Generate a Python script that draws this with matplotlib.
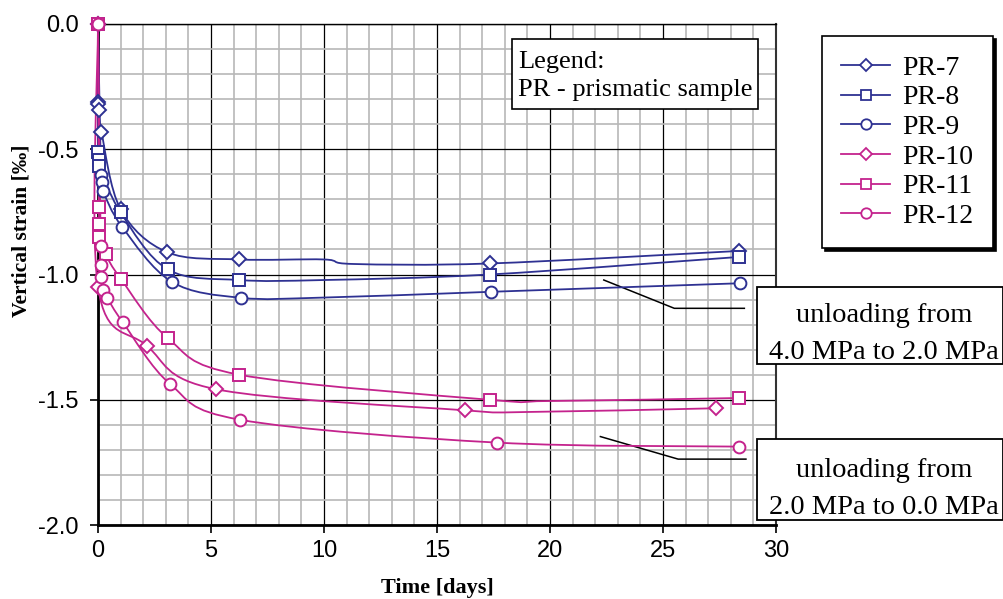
import matplotlib
matplotlib.use("Agg")
import matplotlib.pyplot as plt
import numpy as np
from matplotlib.patches import Rectangle, PathPatch
from matplotlib.path import Path
from matplotlib.lines import Line2D
from matplotlib.ticker import MultipleLocator, FormatStrFormatter

# data (time in days, vertical strain in per mille)
pr7_t = [0, 0.0, 0.02, 0.04, 0.15, 1.0, 3.06, 6.24, 10.0, 11.3, 17.33, 28.35]
pr7_e = [0, -0.31, -0.32, -0.345, -0.43, -0.74, -0.911, -0.94, -0.94, -0.958, -0.956, -0.906]
pr7_mark = [0, 1, 2, 3, 4, 5, 6, 7, 10, 11]

pr8_t = [0, 0.0, 0.04, 0.06, 1.0, 3.09, 6.24, 10.0, 17.33, 28.35]
pr8_e = [0, -0.51, -0.541, -0.566, -0.752, -0.98, -1.022, -1.022, -1.0, -0.93]
pr8_mark = [0, 1, 2, 3, 4, 5, 6, 8, 9]

pr9_t = [0, 0.13, 0.16, 0.22, 1.06, 3.26, 6.33, 10.0, 17.4, 28.4]
pr9_e = [0, -0.603, -0.63, -0.667, -0.809, -1.029, -1.093, -1.092, -1.069, -1.035]
pr9_mark = [0, 1, 2, 3, 4, 5, 6, 8, 9]

pr10_t = [0, 0.0, 2.16, 5.22, 16.22, 18.9, 27.33]
pr10_e = [0, -1.05, -1.284, -1.458, -1.542, -1.549, -1.534]
pr10_mark = [0, 1, 2, 3, 4, 6]

pr11_t = [0, 0.04, 0.05, 0.06, 0.34, 1.0, 3.1, 6.25, 17.33, 20.0, 28.35]
pr11_e = [0, -0.73, -0.80, -0.85, -0.92, -1.016, -1.255, -1.40, -1.50, -1.505, -1.493]
pr11_mark = [0, 1, 2, 3, 4, 5, 6, 7, 8, 10]

pr12_t = [0, 0.12, 0.14, 0.15, 0.24, 0.41, 1.1, 3.2, 6.3, 17.64, 28.35]
pr12_e = [0, -0.886, -0.962, -1.009, -1.06, -1.093, -1.191, -1.438, -1.58, -1.671, -1.687]
pr12_mark = list(range(len(pr12_t)))

labels = ["PR-7", "PR-8", "PR-9", "PR-10", "PR-11", "PR-12"]

# leader lines to the annotation boxes
lead1_t = [22.38, 25.5, 28.6]
lead1_e = [-1.022, -1.135, -1.135]
lead2_t = [22.23, 25.67, 28.67]
lead2_e = [-1.647, -1.737, -1.737]

blue = "#2e3192"
pink = "#c4238d"
serif = ["Liberation Serif", "DejaVu Serif"]
sans = ["Liberation Sans Narrow", "Liberation Sans", "DejaVu Sans"]


def smooth_path(t, e):
    # Excel-like smoothed line: Catmull-Rom segments drawn as cubic Bezier curves
    sx, sy = 22.6, 250.5  # pixel per unit, so the smoothing is done on screen scale
    p = np.column_stack([np.asarray(t) * sx, np.asarray(e) * sy])
    n = len(p)
    verts = [p[0]]
    codes = [Path.MOVETO]
    for i in range(n - 1):
        p0 = p[i - 1] if i > 0 else p[i]
        p1, p2 = p[i], p[i + 1]
        p3 = p[i + 2] if i + 2 < n else p[i + 1]
        verts += [p1 + (p2 - p0) / 6, p2 - (p3 - p1) / 6, p2]
        codes += [Path.CURVE4] * 3
    verts = np.array(verts) / [sx, sy]
    return Path(verts, codes)


fig = plt.figure(figsize=(10.04, 5.99), dpi=100)
ax = fig.add_axes([98 / 1004, 1 - 525 / 599, (776 - 98) / 1004, (525 - 24) / 599])

series = [
    (pr7_t, pr7_e, pr7_mark, "D", 7, blue),
    (pr8_t, pr8_e, pr8_mark, "s", 8, blue),
    (pr9_t, pr9_e, pr9_mark, "o", 8.5, blue),
    (pr10_t, pr10_e, pr10_mark, "D", 7, pink),
    (pr11_t, pr11_e, pr11_mark, "s", 8, pink),
    (pr12_t, pr12_e, pr12_mark, "o", 8.5, pink),
]
handles = []
for (t, e, mk, m, ms, c), lab in zip(series, labels):
    ax.add_patch(PathPatch(smooth_path(t, e), fill=False, ec=c, lw=1.3,
                           clip_on=False, zorder=5))
    ax.plot(t, e, ls="none", marker=m, ms=ms, mfc="white", mec=c, mew=1.4,
            markevery=mk, clip_on=False, zorder=6)
    handles.append(Line2D([], [], color=c, lw=1.3, marker=m, ms=ms - 1,
                          mfc="white", mec=c, mew=1.3, label=lab))

ax.plot(lead1_t, lead1_e, color="black", lw=1.1, zorder=4)
ax.plot(lead2_t, lead2_e, color="black", lw=1.1, zorder=4)

ax.set_xlim(0, 30)
ax.set_ylim(-2.0, 0.0)
ax.xaxis.set_major_locator(MultipleLocator(5))
ax.xaxis.set_minor_locator(MultipleLocator(1))
ax.yaxis.set_major_locator(MultipleLocator(0.5))
ax.yaxis.set_minor_locator(MultipleLocator(0.1))
ax.yaxis.set_major_formatter(FormatStrFormatter("%.1f"))
ax.grid(which="minor", color="#b8b8b8", lw=1.2)
ax.grid(which="major", color="black", lw=0.9)
ax.set_axisbelow(True)
ax.tick_params(which="major", direction="out", length=6, width=1.2)
ax.tick_params(which="minor", length=0)
ax.tick_params(axis="x", pad=5)
ax.tick_params(axis="y", pad=8)
for lab in ax.get_xticklabels() + ax.get_yticklabels():
    lab.set_family(sans)
    lab.set_fontsize(17)

ax.spines["left"].set_linewidth(2)
ax.spines["bottom"].set_linewidth(2)
ax.spines["top"].set_linewidth(1)
ax.spines["right"].set_linewidth(1.5)
ax.spines["right"].set_color("#333333")

ax.set_xlabel("Time [days]", family=serif, fontsize=16, fontweight="bold")
ax.xaxis.set_label_coords((437 - 98) / 678, (525 - 588) / 501)
ax.xaxis.label.set_va("center")
ax.set_ylabel("Vertical strain [‰]", family=serif, fontsize=15.5, fontweight="bold")
ax.yaxis.set_label_coords((22 - 98) / 678, (525 - 231) / 501)
ax.yaxis.label.set_va("center")

# "Legend" note inside plot
fig.patches.append(Rectangle((512 / 1004, 490 / 599), 246 / 1004, 70 / 599,
                             transform=fig.transFigure, fc="white", ec="black",
                             lw=1.2, zorder=10))
fig.text(518 / 1004, (599 - 76) / 599, "Legend:\nPR - prismatic sample",
         family=serif, fontsize=19, ha="left", va="center", linespacing=1.35,
         zorder=11)

leg = ax.legend(handles=handles, loc="upper left", bbox_to_anchor=(822 / 1004, 1 - 36 / 599),
                bbox_transform=fig.transFigure, prop={"family": serif, "size": 20},
                frameon=True, fancybox=False, shadow={"color": "black", "alpha": 1},
                edgecolor="black", handlelength=1.75, labelspacing=0.15,
                borderpad=0.7, borderaxespad=0, handletextpad=0.45)
leg.get_frame().set_linewidth(1.2)

# annotation boxes on the right
for y0, h, yc, txt in [(235, 77, 334, "unloading from\n4.0 MPa to 2.0 MPa"),
                       (79, 81, 489, "unloading from\n2.0 MPa to 0.0 MPa")]:
    fig.patches.append(Rectangle((757 / 1004, y0 / 599), 246 / 1004, h / 599,
                                 transform=fig.transFigure, fc="white", ec="black",
                                 lw=1.3, zorder=10))
    fig.text(884 / 1004, (599 - yc) / 599, txt, family=serif, fontsize=20.5,
             ha="center", va="center", linespacing=1.6, zorder=11)

fig.savefig("out.png", dpi=100)
